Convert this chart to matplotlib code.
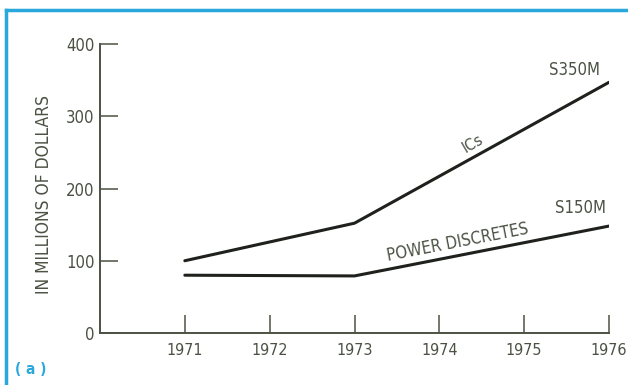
import matplotlib.pyplot as plt
from matplotlib.lines import Line2D

# data
years = [1971, 1973, 1976]
ics = [100, 152, 347]
power_discretes = [80, 79, 148]
x_ticks = [1971, 1972, 1973, 1974, 1975, 1976]
y_ticks = [0, 100, 200, 300, 400]

text_color = '#4b5244'
line_color = '#1f211c'
blue = '#2aa8dc'
plt.rcParams['font.family'] = ['DejaVu Sans']
plt.rcParams['font.stretch'] = 'condensed'

fig = plt.figure(figsize=(6.28, 3.85), dpi=100)
ax = fig.add_axes([100 / 628, 52 / 385, 509 / 628, 289 / 385])

ax.plot(years, ics, color=line_color, lw=2.2, solid_capstyle='round')
ax.plot(years, power_discretes, color=line_color, lw=2.2, solid_capstyle='round')

ax.set_xlim(1970, 1976)
ax.set_ylim(0, 400)
ax.set_xticks(x_ticks)
ax.set_yticks(y_ticks)
ax.tick_params(axis='both', direction='in', length=13, width=1.1,
               color=text_color, labelcolor=text_color, labelsize=12)
ax.tick_params(axis='x', pad=7, labelsize=11.5)
ax.tick_params(axis='y', pad=4)
for side in ['top', 'right']:
    ax.spines[side].set_visible(False)
for side in ['left', 'bottom']:
    ax.spines[side].set_color(text_color)
    ax.spines[side].set_linewidth(1.4)

ax.set_ylabel('IN MILLIONS OF DOLLARS', color=text_color, fontsize=12.5)
ax.yaxis.set_label_coords(-47 / 509, 0.48)

# line annotations
ax.text(1974.4, 262, 'ICs', color=text_color, fontsize=11.5, rotation=30,
        ha='center', va='center')
ax.text(1974.22, 126, 'POWER DISCRETES', color=text_color, fontsize=12,
        rotation=11, ha='center', va='center')
ax.text(1975.89, 364, 'S350M', color=text_color, fontsize=12, ha='right', va='center')
ax.text(1975.97, 173, 'S150M', color=text_color, fontsize=12, ha='right', va='center')

# blue frame and panel label
fig.add_artist(Line2D([6 / 628, 1], [1 - 10 / 385, 1 - 10 / 385], color=blue, lw=2.5))
fig.add_artist(Line2D([6 / 628, 6 / 628], [0, 1 - 10 / 385], color=blue, lw=2.5))
fig.text(15 / 628, 1 - 370 / 385, '( a )', color=blue, fontsize=11,
         fontweight='bold', va='center')

fig.savefig('out.png', dpi=100)
